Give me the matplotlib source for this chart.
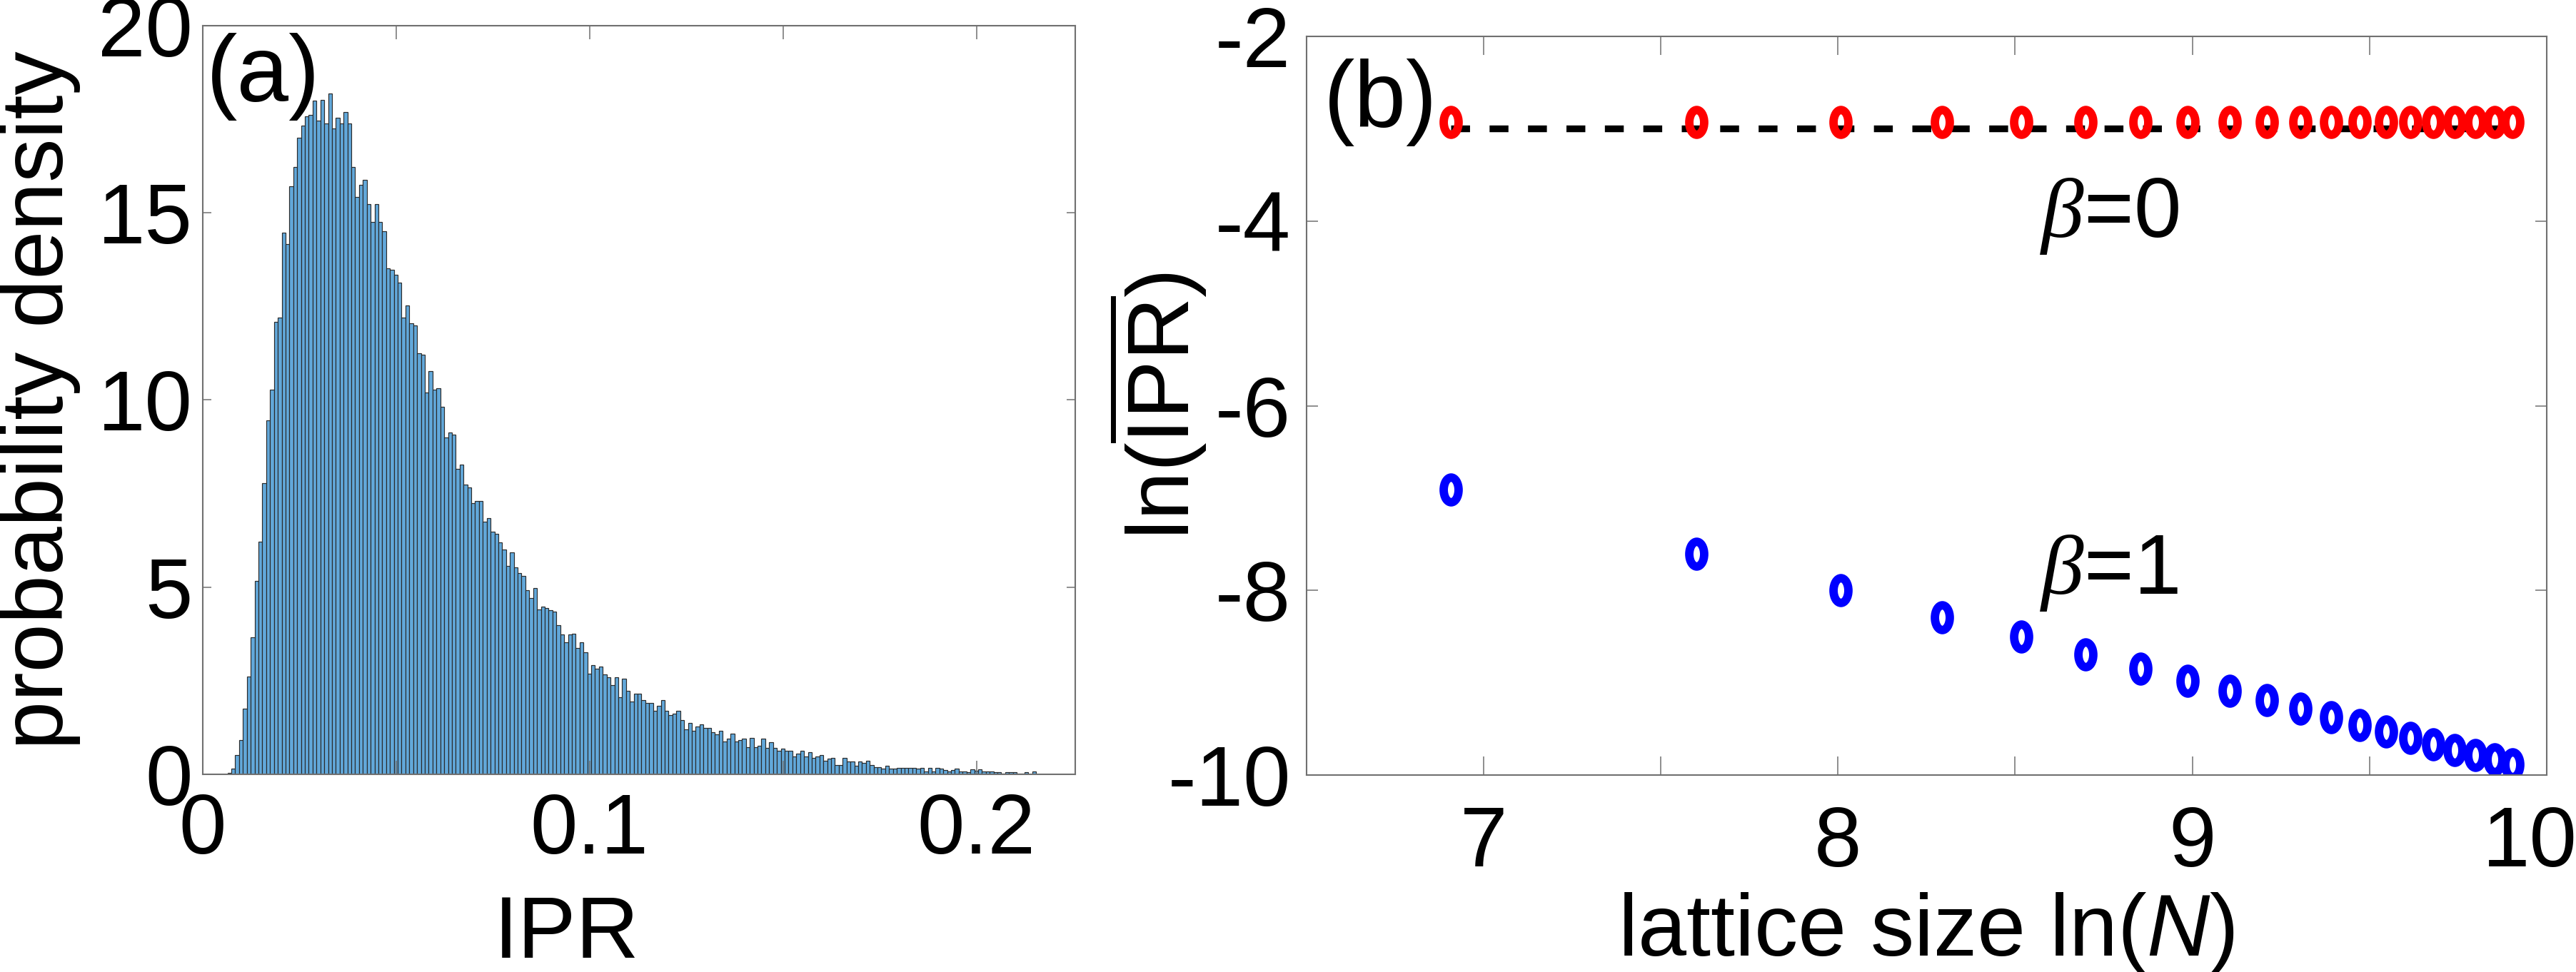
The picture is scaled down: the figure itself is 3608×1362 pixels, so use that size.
import numpy as np
import matplotlib
matplotlib.use("Agg")
import matplotlib.pyplot as plt
from matplotlib.path import Path
from matplotlib.transforms import Affine2D, ScaledTranslation

plt.rcParams['font.family'] = 'Liberation Sans'
plt.rcParams['mathtext.fontset'] = 'custom'
plt.rcParams['mathtext.rm'] = 'Liberation Sans'
plt.rcParams['mathtext.it'] = 'Liberation Serif:italic'
plt.rcParams['mathtext.sf'] = 'Liberation Sans:italic'
plt.rcParams['mathtext.bf'] = 'Liberation Sans:bold'
plt.rcParams['axes.unicode_minus'] = False

# (a) IPR histogram, bins of width 0.001
bin_start = 0.0064
bin_width = 0.001
density = [
    0.03, 0.16, 0.51, 0.91, 1.76, 2.61, 3.66, 5.17, 6.22, 7.78, 9.45, 10.27,
    12.09, 12.20, 14.47, 14.17, 15.71, 16.22, 17.00, 17.33, 17.58, 17.61, 18.00,
    17.46, 18.02, 17.38, 18.18, 17.25, 17.54, 17.38, 17.70, 17.38, 16.22, 15.42,
    15.74, 15.88, 15.24, 14.75, 15.24, 14.75, 14.50, 13.52, 13.48, 13.34, 13.13,
    12.20, 12.52, 12.05, 11.99, 11.24, 11.21, 10.19, 10.78, 10.28, 10.31, 9.81,
    8.99, 9.13, 9.07, 8.16, 8.27, 7.74, 7.66, 7.24, 7.30, 7.30, 6.74, 6.84, 6.49,
    6.42, 6.19, 6.01, 5.56, 5.93, 5.52, 5.38, 5.30, 4.91, 4.70, 4.98, 4.41, 4.48,
    4.44, 4.38, 4.35, 3.99, 3.73, 3.52, 3.73, 3.76, 3.37, 3.52, 3.26,
    2.69, 2.91, 2.83, 2.88, 2.66, 2.60, 2.38, 2.60, 2.05, 2.56, 2.23, 1.95, 2.16,
    2.16, 1.98, 1.91, 1.91, 1.69, 1.83, 1.98, 1.69, 1.59, 1.62, 1.69, 1.45, 1.20,
    1.37, 1.16, 1.27, 1.34, 1.23, 1.23, 1.12, 1.06, 1.16, 0.88, 0.95, 1.08, 0.88,
    0.92, 0.95, 0.73, 0.98, 0.73, 0.77, 0.95, 0.70, 0.85,
    0.70, 0.62, 0.69, 0.62, 0.62, 0.48, 0.56, 0.62, 0.48, 0.59, 0.44, 0.48, 0.51,
    0.37, 0.41, 0.43, 0.25, 0.25, 0.44, 0.34, 0.34, 0.22, 0.34, 0.30, 0.37, 0.25,
    0.19, 0.19, 0.15, 0.22, 0.15, 0.15, 0.18, 0.18, 0.18, 0.18, 0.18, 0.15, 0.18,
    0.08, 0.18, 0.08, 0.18, 0.15, 0.12, 0.08, 0.12, 0.15,
    0.07, 0.07, 0.05, 0.13, 0.10, 0.13, 0.08, 0.08, 0.08, 0.05, 0.05, 0.02, 0.05,
    0.05, 0.05, 0.02, 0.02, 0.06, 0.0, 0.07,
]

# (b) ln(IPR) vs ln(N)
sizes_N = [1000, 2000, 3000, 4000, 5000, 6000, 7000, 8000, 9000, 10000,
           11000, 12000, 13000, 14000, 15000, 16000, 17000, 18000, 19000, 20000]
ln_ipr_beta0 = [-2.93, -2.93, -2.93, -2.93, -2.93, -2.93, -2.93, -2.93, -2.93, -2.93,
                -2.93, -2.93, -2.93, -2.93, -2.93, -2.93, -2.93, -2.93, -2.93, -2.93]
ln_ipr_beta1 = [-6.91, -7.60, -8.00, -8.29, -8.50, -8.69, -8.85, -8.98, -9.09, -9.19,
                -9.28, -9.37, -9.46, -9.53, -9.60, -9.67, -9.73, -9.78, -9.83, -9.88]
beta0_ref = -3.0

spine_col = '#707070'
tick_fs = 86
label_fs = 88
panel_fs = 94

fig = plt.figure(figsize=(36.08, 13.62), dpi=100)
ax1 = fig.add_axes([0.0787, 0.2034, 0.3387, 0.7702])
ax2 = fig.add_axes([0.5072, 0.2026, 0.4814, 0.7599])

# ---- panel (a)
lefts = bin_start + bin_width * np.arange(len(density))
ax1.bar(lefts, density, width=bin_width, align='edge',
        facecolor='#62A8DA', edgecolor='#2a2a2a', linewidth=0.85)
ax1.set_xlim(0, 0.2255)
ax1.set_ylim(0, 20)
ax1.set_xticks([0, 0.05, 0.1, 0.15, 0.2])
ax1.set_xticklabels(['0', '', '0.1', '', '0.2'])
ax1.set_yticks([0, 5, 10, 15, 20])
ax1.tick_params(axis='x', direction='in', top=True, length=13.7, width=1.1,
                color=spine_col, labelsize=tick_fs, pad=18)
ax1.tick_params(axis='y', direction='in', right=True, length=8.6, width=1.1,
                color=spine_col, labelsize=tick_fs, pad=10)
ax1.set_xlabel('IPR', fontsize=label_fs)
ax1.set_ylabel('probability density', fontsize=label_fs)
ax1.xaxis.set_label_coords(0.417, -0.160)
ax1.yaxis.set_label_coords(-0.140, 0.5)
ax1.text(0.004, 0.99, '(a)', transform=ax1.transAxes, fontsize=panel_fs,
         ha='left', va='top')

# ---- panel (b)
ln_N = np.log(sizes_N)
ellipse = Affine2D().scale(0.6, 1.0).transform_path(Path.unit_circle())
ax2.plot([ln_N[0], ln_N[-1]], [beta0_ref, beta0_ref], color='black',
         linestyle=(0, (2.8, 2.9)), linewidth=6.8)
ax2.plot(ln_N, ln_ipr_beta0, linestyle='none', marker=ellipse, markersize=25,
         markerfacecolor='none', markeredgecolor='#ff0000', markeredgewidth=8.5)
ax2.plot(ln_N, ln_ipr_beta1, linestyle='none', marker=ellipse, markersize=25,
         markerfacecolor='none', markeredgecolor='#0000ff', markeredgewidth=8.5)
ax2.set_xlim(6.5, 10)
ax2.set_ylim(-10, -2)
ax2.set_xticks(np.arange(6.5, 10.01, 0.5))
ax2.set_xticklabels(['', '7', '', '8', '', '9', '', '10'])
ax2.set_yticks([-10, -8, -6, -4, -2])
ax2.tick_params(axis='x', direction='in', top=True, length=18.7, width=1.1,
                color=spine_col, labelsize=tick_fs, pad=30)
ax2.tick_params(axis='y', direction='in', right=True, length=11.5, width=1.1,
                color=spine_col, labelsize=tick_fs, pad=16)
# keep the "10" inside the figure, as in the original
last = ax2.get_xticklabels()[-1]
last.set_transform(last.get_transform() + ScaledTranslation(-0.24, 0, fig.dpi_scale_trans))
ax2.set_xlabel(r'lattice size ln($\mathsf{N}$)', fontsize=label_fs)
ax2.set_ylabel(r'ln($\overline{\mathrm{IPR}}$)', fontsize=label_fs)
ax2.xaxis.set_label_coords(0.5, -0.156)
ax2.yaxis.set_label_coords(-0.079, 0.5)
ax2.text(0.014, 0.97, '(b)', transform=ax2.transAxes, fontsize=panel_fs,
         ha='left', va='top')
ax2.text(8.57, -4.17, r'$\beta$=0', fontsize=tick_fs, ha='left', va='baseline')
ax2.text(8.57, -8.04, r'$\beta$=1', fontsize=tick_fs, ha='left', va='baseline')

for ax in (ax1, ax2):
    for sp in ax.spines.values():
        sp.set_color(spine_col)
        sp.set_linewidth(1.5)

fig.savefig('out.png', dpi=100, facecolor='white')
